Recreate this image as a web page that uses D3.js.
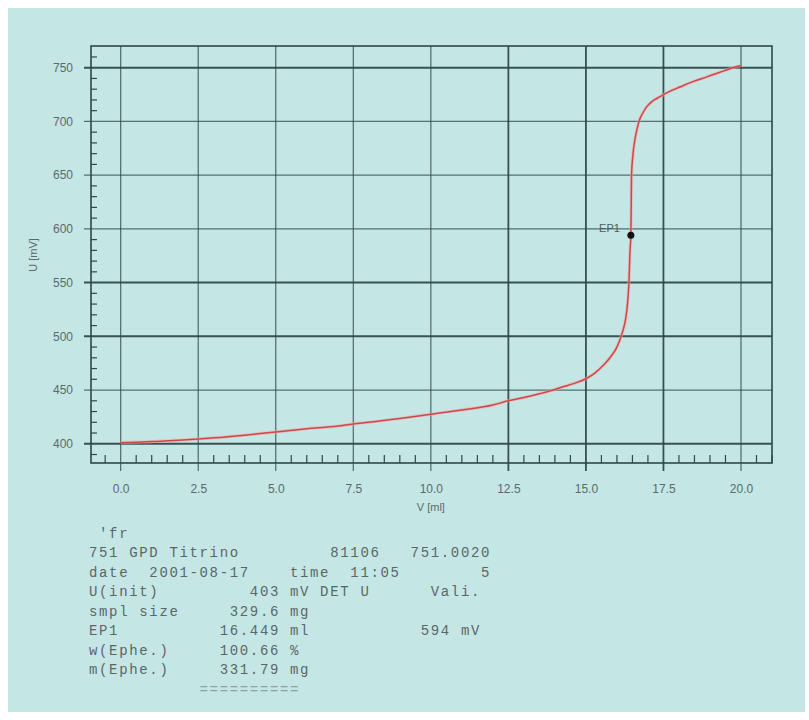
<!DOCTYPE html>
<html>
<head>
<meta charset="utf-8">
<script src="https://cdn.jsdelivr.net/npm/d3@7"></script>
<style>
  body { margin: 0; background: #fff; }
  svg { display: block; }
  .axis text { font-family: "Liberation Sans", Arial, sans-serif; font-size: 12px; fill: #5c6a6a; }
  .report text { font-family: "Liberation Mono", "DejaVu Sans Mono", monospace; font-size: 14px; fill: #5b6767; white-space: pre; }
</style>
</head>
<body>
<svg id="chart" width="809" height="720"></svg>
<script>
// titration curve
var volume = [0, 0.5, 1, 1.5, 2, 2.5, 3, 4, 5, 6, 7, 7.5, 8, 9, 10, 11, 12, 12.5, 13, 13.5,
              14, 14.26, 14.6, 15, 15.3, 15.56, 15.8, 16.0, 16.1, 16.2, 16.28, 16.34, 16.39, 16.42,
              16.449, 16.46, 16.47, 16.52, 16.58, 16.65, 16.71, 16.8, 16.97, 17.15, 17.39, 17.7,
              18.03, 18.45, 18.9, 19.3, 19.64, 20.0];
var potential = [401, 401.5, 402, 402.8, 403.5, 404.5, 405.5, 408, 411, 414, 416.5, 418.5, 420, 423.5,
                 427.5, 431.5, 436, 440, 443, 446.5, 450.5, 453, 456, 460.5, 466, 473, 481, 490, 497,
                 506, 516, 530, 552, 578, 594, 620, 649, 670, 683, 693, 700, 706, 714, 719, 723, 728,
                 732, 737, 741.5, 745.5, 749, 752];

var endpoint = {label: 'EP1', volume: 16.449, potential: 594};

var xTicks = [0, 2.5, 5, 7.5, 10, 12.5, 15, 17.5, 20];
var xTickLabels = ['0.0', '2.5', '5.0', '7.5', '10.0', '12.5', '15.0', '17.5', '20.0'];
var yTicks = [400, 450, 500, 550, 600, 650, 700, 750];
var yTickLabels = ['400', '450', '500', '550', '600', '650', '700', '750'];

var report = [
  " 'fr",
  "751 GPD Titrino         81106   751.0020",
  "date  2001-08-17    time  11:05        5",
  "U(init)         403 mV DET U      Vali.",
  "smpl size     329.6 mg",
  "EP1          16.449 ml           594 mV",
  "w(Ephe.)     100.66 %",
  "m(Ephe.)     331.79 mg",
  "           =========="
];

var frame = {left: 91, right: 772, top: 46, bottom: 463};

var svg = d3.select('#chart');

// cyan paper
svg.append('rect')
    .attr('x', 8).attr('y', 8)
    .attr('width', 797).attr('height', 704)
    .attr('fill', '#c4e6e5');

// scales
var xScale = d3.scaleLinear()
    .domain([-0.957, 21.0])
    .range([frame.left, frame.right]);

var yScale = d3.scaleLinear()
    .domain([382.1, 770.2])
    .range([frame.bottom, frame.top]);

var gridColor = '#2f4848';
var heavyX = [12.5, 15, 17.5];
var heavyY = [750, 550, 500, 400];

// grid lines (they run a little past the frame like on the printout)
svg.append('g').selectAll('line')
    .data(xTicks)
  .enter().append('line')
    .attr('x1', d => xScale(d)).attr('x2', d => xScale(d))
    .attr('y1', frame.top).attr('y2', frame.bottom + 8)
    .attr('stroke', gridColor)
    .attr('stroke-opacity', d => heavyX.indexOf(d) >= 0 ? 0.95 : 0.8)
    .attr('stroke-width', d => heavyX.indexOf(d) >= 0 ? 1.8 : 1.2);

svg.append('g').selectAll('line')
    .data(yTicks)
  .enter().append('line')
    .attr('x1', frame.left - 7).attr('x2', frame.right)
    .attr('y1', d => yScale(d)).attr('y2', d => yScale(d))
    .attr('stroke', gridColor)
    .attr('stroke-opacity', d => heavyY.indexOf(d) >= 0 ? 0.95 : 0.75)
    .attr('stroke-width', d => heavyY.indexOf(d) >= 0 ? 2 : 1.2);

// minor ticks inside the frame
var xMinor = d3.range(-0.5, 21.01, 0.5).filter(d => xTicks.indexOf(d) < 0);
var yMinor = d3.range(390, 770, 10).filter(d => yTicks.indexOf(d) < 0);

svg.append('g').selectAll('line')
    .data(xMinor)
  .enter().append('line')
    .attr('x1', d => xScale(d)).attr('x2', d => xScale(d))
    .attr('y1', frame.bottom - 8).attr('y2', frame.bottom)
    .attr('stroke', gridColor).attr('stroke-width', 1.2);

svg.append('g').selectAll('line')
    .data(yMinor)
  .enter().append('line')
    .attr('x1', frame.left).attr('x2', frame.left + 6)
    .attr('y1', d => yScale(d)).attr('y2', d => yScale(d))
    .attr('stroke', gridColor).attr('stroke-width', 1.2);

// frame
svg.append('rect')
    .attr('x', frame.left).attr('y', frame.top)
    .attr('width', frame.right - frame.left)
    .attr('height', frame.bottom - frame.top)
    .attr('fill', 'none')
    .attr('stroke', gridColor)
    .attr('stroke-width', 1.6);

// axes, labels only (lines are drawn above)
var xAxis = d3.axisBottom(xScale)
    .tickValues(xTicks)
    .tickFormat((d, i) => xTickLabels[i])
    .tickSize(0).tickPadding(21);

var yAxis = d3.axisLeft(yScale)
    .tickValues(yTicks)
    .tickFormat((d, i) => yTickLabels[i])
    .tickSize(0).tickPadding(18);

var gx = svg.append('g').attr('class', 'axis')
    .attr('transform', 'translate(0,' + frame.bottom + ')')
    .call(xAxis);
var gy = svg.append('g').attr('class', 'axis')
    .attr('transform', 'translate(' + frame.left + ',0)')
    .call(yAxis);
gx.select('.domain').remove();
gy.select('.domain').remove();

svg.append('text')
    .attr('x', xScale(10)).attr('y', 511)
    .attr('text-anchor', 'middle')
    .style('font-family', '"Liberation Sans", Arial, sans-serif')
    .style('font-size', '11px').style('fill', '#5c6a6a')
    .text('V [ml]');

svg.append('text')
    .attr('transform', 'translate(37,255) rotate(-90)')
    .attr('text-anchor', 'middle')
    .style('font-family', '"Liberation Sans", Arial, sans-serif')
    .style('font-size', '11px').style('fill', '#5c6a6a')
    .text('U [mV]');

// curve
var pts = volume.map((v, i) => [v, potential[i]]);
var line = d3.line()
    .x(d => xScale(d[0]))
    .y(d => yScale(d[1]))
    .curve(d3.curveMonotoneX);

svg.append('path')
    .datum(pts)
    .attr('d', line)
    .attr('fill', 'none')
    .attr('stroke', '#f2a6a6')
    .attr('stroke-width', 3.2)
    .attr('stroke-opacity', 0.6);

svg.append('path')
    .datum(pts)
    .attr('d', line)
    .attr('fill', 'none')
    .attr('stroke', '#cf4848')
    .attr('stroke-width', 1.5);

// endpoint marker
svg.append('circle')
    .attr('cx', xScale(endpoint.volume))
    .attr('cy', yScale(endpoint.potential))
    .attr('r', 3.5)
    .attr('fill', '#111');

svg.append('text')
    .attr('x', xScale(endpoint.volume) - 11)
    .attr('y', yScale(endpoint.potential) - 3)
    .attr('text-anchor', 'end')
    .style('font-family', '"Liberation Sans", Arial, sans-serif')
    .style('font-size', '11px').style('fill', '#4f5c5c')
    .text(endpoint.label);

// printout under the chart, fixed character grid
var pitch = 10.05;
svg.append('g').attr('class', 'report')
  .selectAll('text')
    .data(report)
  .enter().append('text')
    .attr('x', s => d3.range(s.length).map(i => (89 + i * pitch).toFixed(1)).join(' '))
    .attr('y', (s, i) => 538 + i * 19.45)
    .style('fill', (s, i) => i === report.length - 1 ? '#8fa2a2' : null)
    .text(s => s);
</script>
</body>
</html>
